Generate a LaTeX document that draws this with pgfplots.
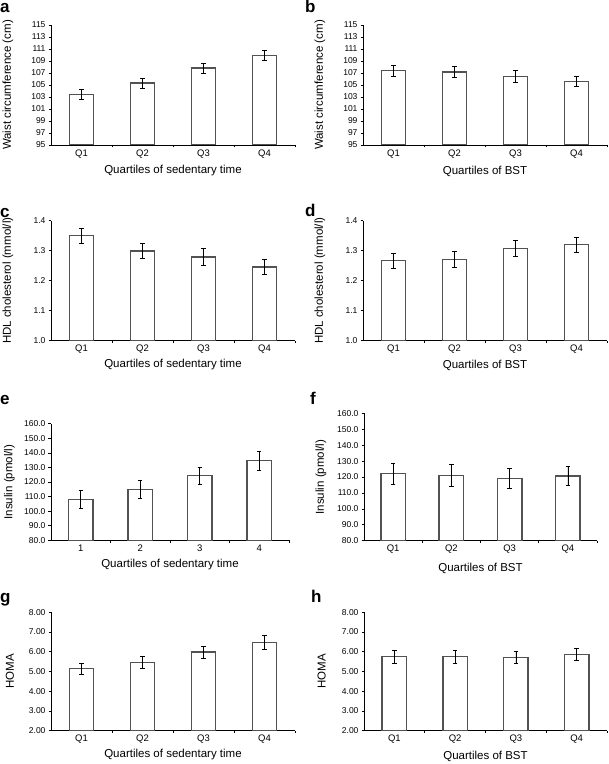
\documentclass[border=0pt]{standalone}
\usepackage{fontspec}
\setmainfont{Liberation Sans}
\usepackage{pgfplots}
\pgfplotsset{compat=1.18}
\usepackage{pgfplotstable}

\pgfplotstableread{
x y e
1 103.4 0.85
2 105.3 0.80
3 107.8 0.85
4 109.9 0.85
}\dataA
\pgfplotstableread{
x y e
1 107.4 0.90
2 107.15 0.95
3 106.45 0.95
4 105.6 0.80
}\dataB
\pgfplotstableread{
x y e
1 1.350 0.024
2 1.299 0.025
3 1.279 0.029
4 1.246 0.025
}\dataC
\pgfplotstableread{
x y e
1 1.267 0.025
2 1.271 0.028
3 1.307 0.026
4 1.320 0.025
}\dataD
\pgfplotstableread{
x y e
1 108.1 6.5
2 115.0 6.4
3 124.4 5.7
4 134.6 6.7
}\dataE
\pgfplotstableread{
x y e
1 122.1 6.7
2 121.0 6.8
3 119.0 6.2
4 120.7 5.9
}\dataF
\pgfplotstableread{
x y e
1 5.14 0.28
2 5.46 0.29
3 5.98 0.30
4 6.47 0.37
}\dataG
\pgfplotstableread{
x y e
1 5.75 0.32
2 5.75 0.33
3 5.72 0.30
4 5.85 0.30
}\dataH

\pgfplotsset{
  panel/.style={
    scale only axis,
    anchor=south west,
    axis lines*=left,
    axis line style={black, line width=0.8pt},
    ybar,
    bar width=24.5pt,
    xmin=0.5, xmax=4.5,
    xtick={1.5,2.5,3.5,4.5},
    xticklabels={},
    extra x ticks={1,2,3,4},
    extra x tick style={major tick length=0pt},
    tick align=outside,
    major tick length=2.5pt,
    tick style={black, line width=0.6pt},
    xticklabel style={font=\fontsize{9.5}{10}\selectfont, yshift=-1pt},
    yticklabel style={font=\fontsize{8.5}{9}\selectfont, xshift=0.5pt},
    /pgf/number format/assume math mode=true,
  },
  qlab/.style={extra x tick labels={Q1,Q2,Q3,Q4}},
  nlab/.style={extra x tick labels={1,2,3,4}},
  wc/.style={ymin=95, ymax=115, ytick={95,97,...,115}},
  hdl/.style={ymin=1.0, ymax=1.4, ytick={1.0,1.1,1.2,1.3,1.4},
    yticklabel style={/pgf/number format/.cd, fixed, fixed zerofill, precision=1}},
  ins/.style={ymin=80, ymax=160, ytick={80,90,...,160},
    yticklabel style={/pgf/number format/.cd, fixed, fixed zerofill, precision=1}},
  homa/.style={ymin=2, ymax=8, ytick={2,3,...,8},
    yticklabel style={/pgf/number format/.cd, fixed, fixed zerofill, precision=2}},
  barplot/.style={fill=white, draw=black!68, line width=1.45pt,
    error bars/.cd, y dir=both, y explicit,
    error bar style={black, line width=0.7pt},
    error mark options={black, rotate=90, mark size=2.2pt, line width=0.7pt}},
}
\newcommand{\lbl}{\fontsize{11.5}{12}\selectfont}
\newcommand{\pl}{\fontsize{17}{18}\selectfont\bfseries}

\begin{document}
\begin{tikzpicture}[x=1pt,y=1pt]
\useasboundingbox (0,0) rectangle (609,764);

% a
\begin{axis}[panel, qlab, wc, at={(51pt,619pt)}, width=244pt, height=120pt]
\addplot[barplot] table[x=x, y=y, y error=e] {\dataA};
\end{axis}
% b
\begin{axis}[panel, qlab, wc, at={(363pt,619pt)}, width=244pt, height=120pt]
\addplot[barplot] table[x=x, y=y, y error=e] {\dataB};
\end{axis}
% c
\begin{axis}[panel, qlab, hdl, at={(51pt,423.3pt)}, width=244pt, height=120pt]
\addplot[barplot] table[x=x, y=y, y error=e] {\dataC};
\end{axis}
% d
\begin{axis}[panel, qlab, hdl, at={(363pt,423.3pt)}, width=244pt, height=120pt]
\addplot[barplot] table[x=x, y=y, y error=e] {\dataD};
\end{axis}
% e
\begin{axis}[panel, nlab, ins, at={(51pt,223.7pt)}, width=238pt, height=116.6pt]
\addplot[barplot] table[x=x, y=y, y error=e] {\dataE};
\end{axis}
% f
\begin{axis}[panel, qlab, ins, at={(364pt,223.3pt)}, width=233pt, height=127.4pt]
\addplot[barplot] table[x=x, y=y, y error=e] {\dataF};
\end{axis}
% g
\begin{axis}[panel, qlab, homa, at={(51pt,33.3pt)}, width=244pt, height=118.4pt]
\addplot[barplot] table[x=x, y=y, y error=e] {\dataG};
\end{axis}
% h
\begin{axis}[panel, qlab, homa, at={(364pt,33.3pt)}, width=243pt, height=118.4pt]
\addplot[barplot] table[x=x, y=y, y error=e] {\dataH};
\end{axis}

% y labels
\node[rotate=90, font=\lbl] at (8,679) {Waist circumference (cm)};
\node[rotate=90, font=\lbl] at (320,679) {Waist circumference (cm)};
\node[rotate=90, font=\lbl] at (8,483.3) {HDL cholesterol (mmol/l)};
\node[rotate=90, font=\lbl] at (320,483.3) {HDL cholesterol (mmol/l)};
\node[rotate=90, font=\lbl] at (9.3,282) {Insulin (pmol/l)};
\node[rotate=90, font=\lbl] at (321,287) {Insulin (pmol/l)};
\node[rotate=90, font=\lbl] at (10,92.5) {HOMA};
\node[rotate=90, font=\lbl] at (321.7,92.5) {HOMA};

% x labels
\node[font=\lbl] at (173,593) {Quartiles of sedentary time};
\node[font=\lbl] at (485,593) {Quartiles of BST};
\node[font=\lbl] at (173,399) {Quartiles of sedentary time};
\node[font=\lbl] at (485,399) {Quartiles of BST};
\node[font=\lbl] at (170,199) {Quartiles of sedentary time};
\node[font=\lbl] at (480.5,196) {Quartiles of BST};
\node[font=\lbl] at (173,9) {Quartiles of sedentary time};
\node[font=\lbl] at (485.5,8) {Quartiles of BST};

% panel letters
\node[font=\pl, anchor=base west, inner sep=0pt] at (0,751) {a};
\node[font=\pl, anchor=base west, inner sep=0pt] at (305,751) {b};
\node[font=\pl, anchor=base west, inner sep=0pt] at (0,546) {c};
\node[font=\pl, anchor=base west, inner sep=0pt] at (305,547) {d};
\node[font=\pl, anchor=base west, inner sep=0pt] at (0,359) {e};
\node[font=\pl, anchor=base west, inner sep=0pt] at (310,359) {f};
\node[font=\pl, anchor=base west, inner sep=0pt] at (0,161) {g};
\node[font=\pl, anchor=base west, inner sep=0pt] at (311,161) {h};
\end{tikzpicture}
\end{document}
